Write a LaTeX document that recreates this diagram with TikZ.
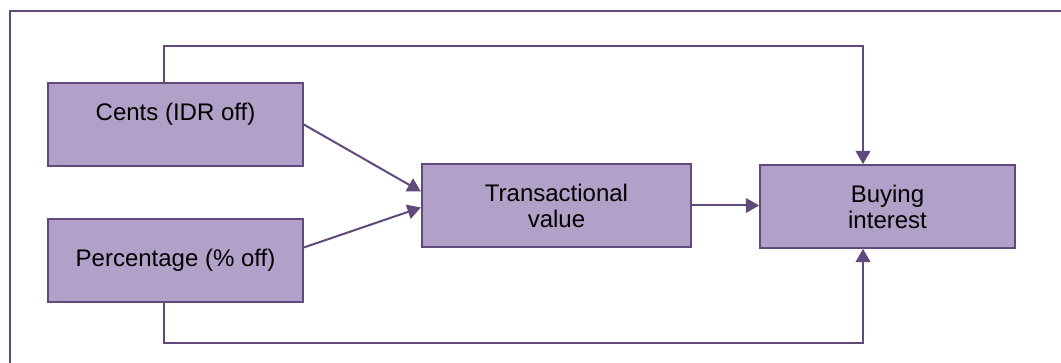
\documentclass[tikz,border=0pt]{standalone}
\usepackage{fontspec}
\setmainfont{Liberation Sans}
\usepackage{tikz}
\usetikzlibrary{arrows.meta, positioning, calc}
\usepackage{xcolor}
\definecolor{boxfill}{HTML}{B1A0C7}
\definecolor{boxline}{HTML}{604A7B}

\begin{document}
\begin{tikzpicture}[
    x=0.75pt, y=-0.75pt,
    factor/.style={draw=boxline, fill=boxfill, line width=1.5pt, minimum width=191pt, minimum height=62pt, font=\fontsize{18}{19.5}\selectfont, align=center, inner sep=0pt},
    link/.style={draw=boxline, line width=1.5pt},
    arrow/.style={link, -{Triangle[length=10pt, width=11pt]}},
]
\useasboundingbox (0,0) rectangle (1061,363);

% Frame
\draw[link, line width=2pt] (10,363) -- (10,11) -- (1061,11);

% Boxes
\node[factor] (cents) at (175.5,124.5) {Cents (IDR off)\\ \mbox{}};
\node[factor] (perc) at (175.5,260.5) {Percentage (\% off)};
\node[factor, minimum width=202pt] (trans) at (556.5,205.5) {Transactional\\value};
\node[factor] (buy) at (887.5,206.5) {Buying\\interest};

% Bends
\coordinate (topbend) at (0,46);
\coordinate (botbend) at (0,343);

% Arrows
\draw[arrow] (cents.east) -- ($(trans.west)+(0,-14)$);
\draw[arrow] ($(perc.east)+(0,-13)$) -- ($(trans.west)+(0,2)$);
\draw[arrow] (trans.east) -- (trans.east -| buy.west);
\draw[arrow] ($(cents.north)+(-11.5,0)$) |- ($(topbend)+(170,0)$) -| ($(buy.north)+(-24.5,0)$);
\draw[arrow] ($(perc.south)+(-11.5,0)$) |- ($(botbend)+(170,0)$) -| ($(buy.south)+(-24.5,0)$);

\end{tikzpicture}
\end{document}
